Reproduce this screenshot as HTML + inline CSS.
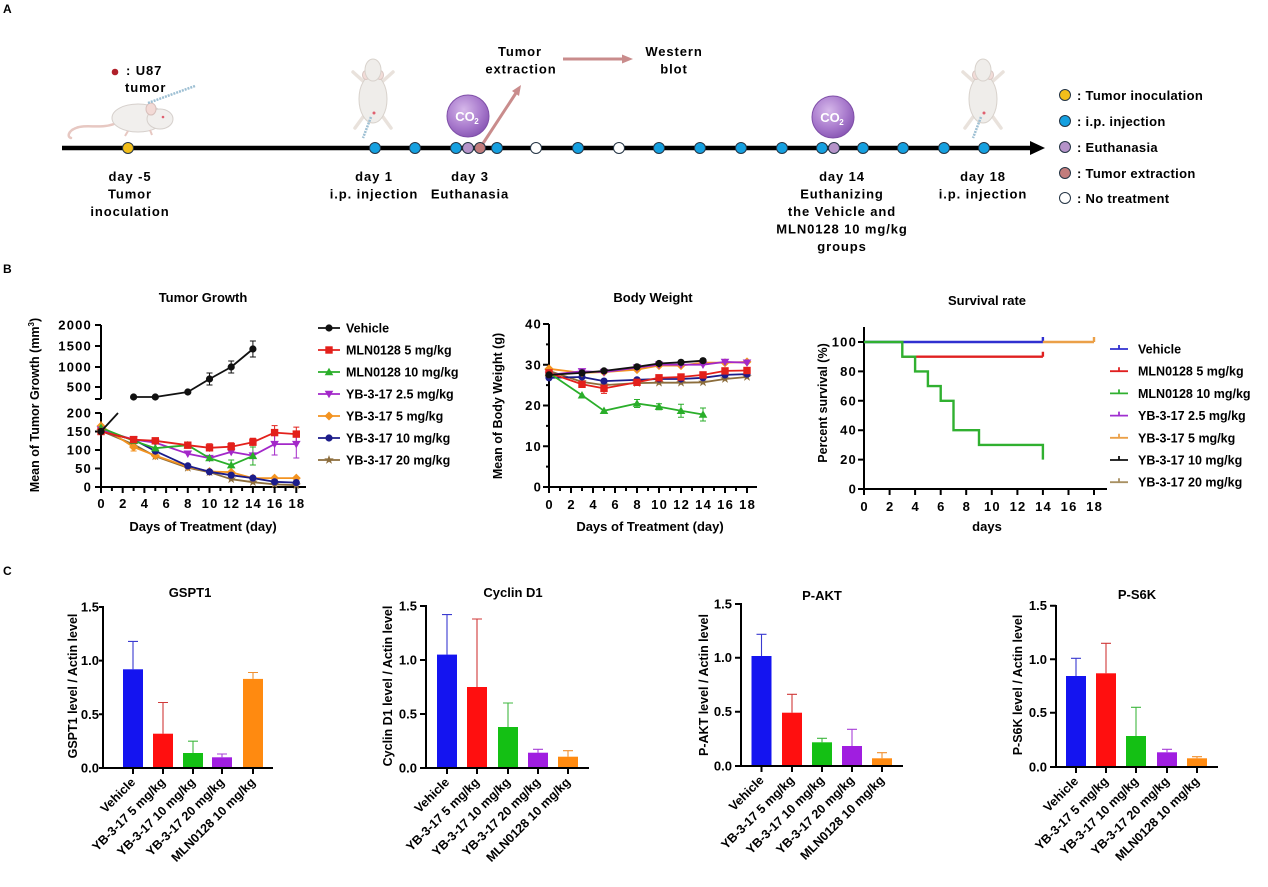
<!DOCTYPE html>
<html><head><meta charset="utf-8"><style>
html,body{margin:0;padding:0;background:#fff;}
svg{display:block;}
text{font-family:"Liberation Sans",Arial,Helvetica,sans-serif;font-weight:bold;fill:#000;}
.a{font-size:13px;letter-spacing:0.9px;}
.lg{font-size:13px;letter-spacing:0.3px;}
.tk{font-size:13px;letter-spacing:1.2px;}
.tb{font-size:13px;}
.ti{font-size:13px;}
.yl{font-size:12.5px;}
.cat{font-size:12.5px;}
.leg{font-size:12.5px;}
</style></head><body>
<svg width="1268" height="887" viewBox="0 0 1268 887" xmlns="http://www.w3.org/2000/svg">
<defs>
 <radialGradient id="co2g" cx="40%" cy="35%" r="70%">
  <stop offset="0" stop-color="#d6b8ea"/>
  <stop offset="0.6" stop-color="#a97bcd"/>
  <stop offset="1" stop-color="#8654b2"/>
 </radialGradient>
 <marker id="mc" viewBox="-6 -6 12 12" markerWidth="12" markerHeight="12" refX="0" refY="0" markerUnits="userSpaceOnUse" orient="0" overflow="visible"><circle r="3.6" fill="#111"/></marker>
 <marker id="mn" viewBox="-6 -6 12 12" markerWidth="12" markerHeight="12" refX="0" refY="0" markerUnits="userSpaceOnUse" orient="0" overflow="visible"><circle r="3.6" fill="#1c1c8a"/></marker>
 <marker id="ms" viewBox="-6 -6 12 12" markerWidth="12" markerHeight="12" refX="0" refY="0" markerUnits="userSpaceOnUse" orient="0" overflow="visible"><rect x="-3.7" y="-3.7" width="7.4" height="7.4" fill="#e3201b"/></marker>
 <marker id="mt" viewBox="-6 -6 12 12" markerWidth="12" markerHeight="12" refX="0" refY="0" markerUnits="userSpaceOnUse" orient="0" overflow="visible"><path d="M0,-4.3 L4.3,3.2 L-4.3,3.2 Z" fill="#2aae2a"/></marker>
 <marker id="mv" viewBox="-6 -6 12 12" markerWidth="12" markerHeight="12" refX="0" refY="0" markerUnits="userSpaceOnUse" orient="0" overflow="visible"><path d="M0,4.3 L4.3,-3.2 L-4.3,-3.2 Z" fill="#a328c9"/></marker>
 <marker id="md" viewBox="-6 -6 12 12" markerWidth="12" markerHeight="12" refX="0" refY="0" markerUnits="userSpaceOnUse" orient="0" overflow="visible"><path d="M0,-4.5 L4.5,0 L0,4.5 L-4.5,0 Z" fill="#f39320"/></marker>
 <marker id="mst" viewBox="-6 -6 12 12" markerWidth="12" markerHeight="12" refX="0" refY="0" markerUnits="userSpaceOnUse" orient="0" overflow="visible"><path d="M0,-5 L1.2,-1.6 L4.8,-1.6 L1.9,0.5 L3,3.9 L0,1.8 L-3,3.9 L-1.9,0.5 L-4.8,-1.6 L-1.2,-1.6 Z" fill="#8c6d3c"/></marker>
</defs>

<!-- ================= PANEL A ================= -->
<text x="3" y="13" style="font-size:12px">A</text>

<!-- lying mouse -->
<g>
 <path d="M114,124 C100,129 86,124 76,128 C68,131 67,137 71,138" stroke="#e7c8c2" stroke-width="2.5" fill="none" stroke-linecap="round"/>
 <ellipse cx="138" cy="118" rx="26" ry="14" fill="#f1efed" stroke="#d6d0cc"/>
 <ellipse cx="160" cy="119" rx="13" ry="10" fill="#f1efed" stroke="#d6d0cc"/>
 <ellipse cx="151" cy="109" rx="5" ry="6" fill="#f3dad6" stroke="#d8c0bc"/>
 <circle cx="163" cy="117" r="1.3" fill="#e06070"/>
 <path d="M128,131 l-3,5 M150,130 l2,5" stroke="#e7c8c2" stroke-width="2"/>
 <line x1="148" y1="103" x2="195" y2="86" stroke="#9dbfd3" stroke-width="2.5" stroke-dasharray="2,1"/>
</g>
<circle cx="115" cy="72" r="3.3" fill="#b0202a"/>
<text class="a" x="126" y="75">:  U87</text>
<text class="a" x="125" y="92">tumor</text>

<!-- top-down mice -->
<g transform="translate(373,95)">
 <path d="M-10,-14 L-20,-23 M10,-14 L20,-23" stroke="#e9e2dc" stroke-width="3.5" stroke-linecap="round"/>
 <path d="M-10,22 L-18,33 M10,22 L18,33" stroke="#e9e2dc" stroke-width="3.5" stroke-linecap="round"/>
 <ellipse cx="0" cy="4" rx="14" ry="24" fill="#efedea" stroke="#d8d2cc"/>
 <ellipse cx="-7" cy="-20" rx="3.5" ry="4.5" fill="#f2dcd8" stroke="#d8c6c2"/>
 <ellipse cx="7" cy="-20" rx="3.5" ry="4.5" fill="#f2dcd8" stroke="#d8c6c2"/>
 <ellipse cx="0" cy="-25" rx="8" ry="11" fill="#efedea" stroke="#d8d2cc"/>
 <circle cx="1" cy="18" r="1.5" fill="#e06070"/>
 <line x1="-2" y1="22" x2="-10" y2="43" stroke="#9dbfd3" stroke-width="2.5" stroke-dasharray="2,1"/>
</g>
<g transform="translate(983,95)">
 <path d="M-10,-14 L-20,-23 M10,-14 L20,-23" stroke="#e9e2dc" stroke-width="3.5" stroke-linecap="round"/>
 <path d="M-10,22 L-18,33 M10,22 L18,33" stroke="#e9e2dc" stroke-width="3.5" stroke-linecap="round"/>
 <ellipse cx="0" cy="4" rx="14" ry="24" fill="#efedea" stroke="#d8d2cc"/>
 <ellipse cx="-7" cy="-20" rx="3.5" ry="4.5" fill="#f2dcd8" stroke="#d8c6c2"/>
 <ellipse cx="7" cy="-20" rx="3.5" ry="4.5" fill="#f2dcd8" stroke="#d8c6c2"/>
 <ellipse cx="0" cy="-25" rx="8" ry="11" fill="#efedea" stroke="#d8d2cc"/>
 <circle cx="1" cy="18" r="1.5" fill="#e06070"/>
 <line x1="-2" y1="22" x2="-10" y2="43" stroke="#9dbfd3" stroke-width="2.5" stroke-dasharray="2,1"/>
</g>

<!-- CO2 bubbles -->
<circle cx="468" cy="116" r="21" fill="url(#co2g)" stroke="#7f4fa8" stroke-width="1"/>
<text x="465" y="121" text-anchor="middle" style="font-size:13px;fill:#fff">CO</text>
<text x="476.5" y="124" text-anchor="middle" style="font-size:8px;fill:#fff">2</text>
<circle cx="833" cy="117" r="21" fill="url(#co2g)" stroke="#7f4fa8" stroke-width="1"/>
<text x="830" y="122" text-anchor="middle" style="font-size:13px;fill:#fff">CO</text>
<text x="841.5" y="125" text-anchor="middle" style="font-size:8px;fill:#fff">2</text>

<!-- arrows -->
<line x1="480" y1="148" x2="516" y2="93" stroke="#c98c8c" stroke-width="3"/>
<polygon points="521,85 519,96 512,91" fill="#c98c8c"/>
<line x1="563" y1="59" x2="624" y2="59" stroke="#c98c8c" stroke-width="3"/>
<polygon points="622,54.5 633,59 622,63.5" fill="#c98c8c"/>

<text class="a" x="520" y="56" text-anchor="middle">Tumor</text>
<text class="a" x="521" y="73.5" text-anchor="middle">extraction</text>
<text class="a" x="674" y="56" text-anchor="middle">Western</text>
<text class="a" x="674" y="73.5" text-anchor="middle">blot</text>

<!-- timeline -->
<line x1="62" y1="148" x2="1032" y2="148" stroke="#000" stroke-width="4.5"/>
<polygon points="1030,141 1045,148 1030,155" fill="#000"/>
<g stroke="#243444" stroke-width="1">
 <circle cx="128" cy="148" r="5.5" fill="#f2be1a"/>
 <circle cx="375" cy="148" r="5.5" fill="#15a0e0"/>
 <circle cx="415" cy="148" r="5.5" fill="#15a0e0"/>
 <circle cx="456" cy="148" r="5.5" fill="#15a0e0"/>
 <circle cx="468" cy="148" r="5.5" fill="#b593c9"/>
 <circle cx="480" cy="148" r="5.5" fill="#c27c7c"/>
 <circle cx="497" cy="148" r="5.5" fill="#15a0e0"/>
 <circle cx="536" cy="148" r="5.5" fill="#fff"/>
 <circle cx="578" cy="148" r="5.5" fill="#15a0e0"/>
 <circle cx="619" cy="148" r="5.5" fill="#fff"/>
 <circle cx="659" cy="148" r="5.5" fill="#15a0e0"/>
 <circle cx="700" cy="148" r="5.5" fill="#15a0e0"/>
 <circle cx="741" cy="148" r="5.5" fill="#15a0e0"/>
 <circle cx="782" cy="148" r="5.5" fill="#15a0e0"/>
 <circle cx="822" cy="148" r="5.5" fill="#15a0e0"/>
 <circle cx="834" cy="148" r="5.5" fill="#b593c9"/>
 <circle cx="863" cy="148" r="5.5" fill="#15a0e0"/>
 <circle cx="903" cy="148" r="5.5" fill="#15a0e0"/>
 <circle cx="944" cy="148" r="5.5" fill="#15a0e0"/>
 <circle cx="984" cy="148" r="5.5" fill="#15a0e0"/>
</g>

<text class="a" x="130" y="181" text-anchor="middle">day -5</text>
<text class="a" x="130" y="198.5" text-anchor="middle">Tumor</text>
<text class="a" x="130" y="216" text-anchor="middle">inoculation</text>
<text class="a" x="374" y="181" text-anchor="middle">day 1</text>
<text class="a" x="374" y="198.5" text-anchor="middle">i.p. injection</text>
<text class="a" x="470" y="181" text-anchor="middle">day 3</text>
<text class="a" x="470" y="198.5" text-anchor="middle">Euthanasia</text>
<text class="a" x="842" y="181" text-anchor="middle">day 14</text>
<text class="a" x="842" y="198.5" text-anchor="middle">Euthanizing</text>
<text class="a" x="842" y="216" text-anchor="middle">the Vehicle and</text>
<text class="a" x="842" y="233.5" text-anchor="middle">MLN0128 10 mg/kg</text>
<text class="a" x="842" y="251" text-anchor="middle">groups</text>
<text class="a" x="983" y="181" text-anchor="middle">day 18</text>
<text class="a" x="983" y="198.5" text-anchor="middle">i.p. injection</text>

<!-- legend A -->
<g stroke="#243444" stroke-width="1">
 <circle cx="1065" cy="95" r="5.5" fill="#f2be1a"/>
 <circle cx="1065" cy="121" r="5.5" fill="#15a0e0"/>
 <circle cx="1065" cy="147" r="5.5" fill="#b593c9"/>
 <circle cx="1065" cy="173" r="5.5" fill="#c27c7c"/>
 <circle cx="1065" cy="198" r="5.5" fill="#fff"/>
</g>
<text class="lg" x="1077" y="100">: Tumor inoculation</text>
<text class="lg" x="1077" y="126">: i.p. injection</text>
<text class="lg" x="1077" y="152">: Euthanasia</text>
<text class="lg" x="1077" y="178">: Tumor extraction</text>
<text class="lg" x="1077" y="203">: No treatment</text>

<!-- ================= PANEL B ================= -->
<text x="3" y="273" style="font-size:12px">B</text>

<!-- Tumor Growth -->
<text class="ti" x="203" y="302" text-anchor="middle">Tumor Growth</text>
<text class="yl" transform="translate(39,405) rotate(-90)" text-anchor="middle">Mean of Tumor Growth (mm<tspan dy="-5" style="font-size:8px">3</tspan><tspan dy="5">)</tspan></text>
<g stroke="#000" stroke-width="2" fill="none">
 <path d="M101,325 V399 M95,325 H101 M95,346 H101 M95,367 H101 M95,387 H101 M95,399 H101"/>
 <path d="M101,413 V488 M95,413 H101 M95,431.5 H101 M95,450 H101 M95,468.5 H101 M95,487 H101"/>
 <path d="M100,487 H306"/>
 <path d="M101,487 v6 M122.7,487 v6 M144.4,487 v6 M166.1,487 v6 M187.8,487 v6 M209.5,487 v6 M231.2,487 v6 M252.9,487 v6 M274.6,487 v6 M296.3,487 v6"/>
 <path d="M111.9,487 v4 M133.6,487 v4 M155.3,487 v4 M177,487 v4 M198.7,487 v4 M220.4,487 v4 M242.1,487 v4 M263.8,487 v4 M285.5,487 v4"/>
</g>
<g text-anchor="end">
 <text class="tk" x="92" y="329.5" text-anchor="end">2000</text>
 <text class="tk" x="92" y="350.5" text-anchor="end">1500</text>
 <text class="tk" x="92" y="371.5" text-anchor="end">1000</text>
 <text class="tk" x="92" y="391.5" text-anchor="end">500</text>
 <text class="tk" x="92" y="417.5" text-anchor="end">200</text>
 <text class="tk" x="92" y="436" text-anchor="end">150</text>
 <text class="tk" x="92" y="454.5" text-anchor="end">100</text>
 <text class="tk" x="92" y="473" text-anchor="end">50</text>
 <text class="tk" x="92" y="491.5" text-anchor="end">0</text>
</g>
<g text-anchor="middle">
 <text class="tk" x="101.6" y="508">0</text>
 <text class="tk" x="123.3" y="508">2</text>
 <text class="tk" x="145" y="508">4</text>
 <text class="tk" x="166.7" y="508">6</text>
 <text class="tk" x="188.4" y="508">8</text>
 <text class="tk" x="210.1" y="508">10</text>
 <text class="tk" x="231.8" y="508">12</text>
 <text class="tk" x="253.5" y="508">14</text>
 <text class="tk" x="275.2" y="508">16</text>
 <text class="tk" x="296.9" y="508">18</text>
</g>
<text class="tb" x="203" y="531" text-anchor="middle">Days of Treatment (day)</text>

<!-- error bars tumor -->
<g stroke-width="1" fill="none">
 <path stroke="#e3201b" d="M187.8,442 v6.4 M209.5,443.8 v8 M231.2,442.7 v8 M252.9,438.2 v8 M274.6,425.6 v14 M296.3,427.1 v14 M184.8,442 h6 M206.5,443.8 h6 M228.2,442.7 h6 M249.9,438.2 h6 M271.6,425.6 h6 M293.3,427.1 h6"/>
 <path stroke="#2aae2a" d="M231.2,460 v10.4 M252.9,447 v18 M228.2,460 h6 M249.9,447 h6 M249.9,465 h6"/>
 <path stroke="#a328c9" d="M231.2,448.9 v6 M252.9,450.6 v10 M274.6,433 v22 M296.3,431 v27 M271.6,433 h6 M271.6,455 h6 M293.3,431 h6 M293.3,458 h6"/>
 <path stroke="#f39320" d="M101,421 v10 M133.6,443 v8 M130.6,451 h6"/>
 <path stroke="#111" d="M209.5,373 v12 M231.2,361 v12 M252.9,341 v16 M206.5,373 h6 M206.5,385 h6 M228.2,361 h6 M228.2,373 h6 M249.9,341 h6 M249.9,357 h6"/>
</g>
<!-- series tumor -->
<g fill="none" stroke-width="1.8" stroke-linejoin="round">
 <polyline stroke="#8c6d3c" marker-start="url(#mst)" marker-mid="url(#mst)" marker-end="url(#mst)" points="101,430.8 133.6,444.45 155.3,456.3 187.8,467.8 209.5,472.2 231.2,479.2 252.9,482.2 274.6,484.4 296.3,485.2"/>
 <polyline stroke="#f39320" marker-start="url(#md)" marker-mid="url(#md)" marker-end="url(#md)" points="101,426 133.6,447 155.3,455.6 187.8,466.7 209.5,471.5 231.2,472.2 252.9,478.1 274.6,478.1 296.3,478.1"/>
 <polyline stroke="#1c1c8a" marker-start="url(#mn)" marker-mid="url(#mn)" marker-end="url(#mn)" points="101,431.5 133.6,439.6 155.3,451.1 187.8,465.9 209.5,471.8 231.2,475.2 252.9,478.1 274.6,481.8 296.3,482.6"/>
 <polyline stroke="#a328c9" marker-start="url(#mv)" marker-mid="url(#mv)" marker-end="url(#mv)" points="101,429.7 133.6,439.6 155.3,442.6 187.8,453.7 209.5,458.1 231.2,451.9 252.9,455.6 274.6,444.1 296.3,444.1"/>
 <polyline stroke="#2aae2a" marker-start="url(#mt)" marker-mid="url(#mt)" marker-end="url(#mt)" points="101,427.8 133.6,440.8 155.3,448.2 187.8,445.2 209.5,458.1 231.2,465.2 252.9,455.9"/>
 <polyline stroke="#e3201b" marker-start="url(#ms)" marker-mid="url(#ms)" marker-end="url(#ms)" points="101,431.5 133.6,439.6 155.3,440.8 187.8,445.2 209.5,447.8 231.2,446.7 252.9,442.2 274.6,432.6 296.3,434.1"/>
 <line x1="101" y1="431.5" x2="118" y2="413" stroke="#111"/>
 <circle cx="101" cy="431.5" r="3.6" fill="#111" stroke="none"/>
 <polyline stroke="#111" marker-start="url(#mc)" marker-mid="url(#mc)" marker-end="url(#mc)" points="133.6,397 155.3,397 187.8,392 209.5,379 231.2,367 252.9,349"/>
</g>
<!-- legend tumor -->
<g fill="none" stroke-width="1.8">
 <polyline stroke="#111" marker-mid="url(#mc)" points="318,328 329,328 340,328"/>
 <polyline stroke="#e3201b" marker-mid="url(#ms)" points="318,350 329,350 340,350"/>
 <polyline stroke="#2aae2a" marker-mid="url(#mt)" points="318,372 329,372 340,372"/>
 <polyline stroke="#a328c9" marker-mid="url(#mv)" points="318,394 329,394 340,394"/>
 <polyline stroke="#f39320" marker-mid="url(#md)" points="318,416 329,416 340,416"/>
 <polyline stroke="#1c1c8a" marker-mid="url(#mn)" points="318,438 329,438 340,438"/>
 <polyline stroke="#8c6d3c" marker-mid="url(#mst)" points="318,460 329,460 340,460"/>
</g>
<text class="leg" x="346" y="332.5">Vehicle</text>
<text class="leg" x="346" y="354.5">MLN0128 5 mg/kg</text>
<text class="leg" x="346" y="376.5">MLN0128 10 mg/kg</text>
<text class="leg" x="346" y="398.5">YB-3-17 2.5 mg/kg</text>
<text class="leg" x="346" y="420.5">YB-3-17 5 mg/kg</text>
<text class="leg" x="346" y="442.5">YB-3-17 10 mg/kg</text>
<text class="leg" x="346" y="464.5">YB-3-17 20 mg/kg</text>

<!-- Body Weight -->
<text class="ti" x="653" y="302" text-anchor="middle">Body Weight</text>
<text class="yl" transform="translate(502,406) rotate(-90)" text-anchor="middle">Mean of Body Weight (g)</text>
<g stroke="#000" stroke-width="2" fill="none">
 <path d="M549,324 V488 M548,487 H757"/>
 <path d="M543,324 H549 M543,364.75 H549 M543,405.5 H549 M543,446.25 H549 M543,487 H549"/>
 <path d="M546,344.4 H549 M546,385.1 H549 M546,425.9 H549 M546,466.6 H549"/>
 <path d="M549,487 v6 M571,487 v6 M593,487 v6 M615,487 v6 M637,487 v6 M659,487 v6 M681,487 v6 M703,487 v6 M725,487 v6 M747,487 v6"/>
 <path d="M560,487 v4 M582,487 v4 M604,487 v4 M626,487 v4 M648,487 v4 M670,487 v4 M692,487 v4 M714,487 v4 M736,487 v4"/>
</g>
<text class="tk" x="542" y="328.5" text-anchor="end">40</text>
<text class="tk" x="542" y="369.25" text-anchor="end">30</text>
<text class="tk" x="542" y="410" text-anchor="end">20</text>
<text class="tk" x="542" y="450.75" text-anchor="end">10</text>
<text class="tk" x="542" y="491.5" text-anchor="end">0</text>
<g text-anchor="middle">
 <text class="tk" x="549.6" y="509">0</text>
 <text class="tk" x="571.6" y="509">2</text>
 <text class="tk" x="593.6" y="509">4</text>
 <text class="tk" x="615.6" y="509">6</text>
 <text class="tk" x="637.6" y="509">8</text>
 <text class="tk" x="659.6" y="509">10</text>
 <text class="tk" x="681.6" y="509">12</text>
 <text class="tk" x="703.6" y="509">14</text>
 <text class="tk" x="725.6" y="509">16</text>
 <text class="tk" x="747.6" y="509">18</text>
</g>
<text class="tb" x="650" y="531" text-anchor="middle">Days of Treatment (day)</text>
<g stroke-width="1" fill="none">
 <path stroke="#2aae2a" d="M637,399.5 v8 M659,403.7 v6 M681,404.3 v13 M703,408 v13 M634,399.5 h6 M634,407.5 h6 M656,403.7 h6 M656,409.7 h6 M678,404.3 h6 M678,417.3 h6 M700,408 h6 M700,421 h6"/>
 <path stroke="#e3201b" d="M604,383.4 v10 M601,393.4 h6"/>
</g>
<g fill="none" stroke-width="1.8" stroke-linejoin="round">
 <polyline stroke="#8c6d3c" marker-start="url(#mst)" marker-mid="url(#mst)" marker-end="url(#mst)" points="549,370.9 582,381.9 604,385.1 637,383.1 659,382.7 681,382.7 703,382.3 725,379 747,377"/>
 <polyline stroke="#1c1c8a" marker-start="url(#mn)" marker-mid="url(#mn)" marker-end="url(#mn)" points="549,377.8 582,377 604,381.1 637,379.8 659,379 681,379 703,377.8 725,374.9 747,374.1"/>
 <polyline stroke="#f39320" marker-start="url(#md)" marker-mid="url(#md)" marker-end="url(#md)" points="549,368.8 582,372.9 604,372.1 637,369.6 659,365.6 681,365.6 703,362.7 725,362.7 747,361.9"/>
 <polyline stroke="#a328c9" marker-start="url(#mv)" marker-mid="url(#mv)" marker-end="url(#mv)" points="549,374.9 582,371.3 604,372.1 637,367.6 659,364.7 681,364.7 703,364.7 725,361.9 747,362.7"/>
 <polyline stroke="#2aae2a" marker-start="url(#mt)" marker-mid="url(#mt)" marker-end="url(#mt)" points="549,372.9 582,395.3 604,410.8 637,403.5 659,406.7 681,410.8 703,414.5"/>
 <polyline stroke="#e3201b" marker-start="url(#ms)" marker-mid="url(#ms)" marker-end="url(#ms)" points="549,372.9 582,384.3 604,388.4 637,382.3 659,377.8 681,377 703,374.9 725,370.9 747,370.5"/>
 <polyline stroke="#111" marker-start="url(#mc)" marker-mid="url(#mc)" marker-end="url(#mc)" points="549,374.9 582,372.9 604,370.9 637,366.8 659,363.5 681,362.3 703,360.7"/>
</g>

<!-- Survival -->
<text class="ti" x="987" y="305" text-anchor="middle">Survival rate</text>
<text class="yl" transform="translate(827,403) rotate(-90)" text-anchor="middle">Percent survival (%)</text>
<g stroke="#000" stroke-width="2" fill="none">
 <path d="M864,327 V490 M863,489 H1107"/>
 <path d="M858,342 H864 M858,371.4 H864 M858,400.8 H864 M858,430.2 H864 M858,459.6 H864 M858,489 H864"/>
 <path d="M864,489 v6 M889.6,489 v6 M915.1,489 v6 M940.7,489 v6 M966.2,489 v6 M991.8,489 v6 M1017.4,489 v6 M1042.9,489 v6 M1068.5,489 v6 M1094,489 v6"/>
</g>
<text class="tk" x="857" y="346.5" text-anchor="end">100</text>
<text class="tk" x="857" y="375.9" text-anchor="end">80</text>
<text class="tk" x="857" y="405.3" text-anchor="end">60</text>
<text class="tk" x="857" y="434.7" text-anchor="end">40</text>
<text class="tk" x="857" y="464.1" text-anchor="end">20</text>
<text class="tk" x="857" y="493.5" text-anchor="end">0</text>
<g text-anchor="middle">
 <text class="tk" x="864.6" y="511">0</text>
 <text class="tk" x="890.2" y="511">2</text>
 <text class="tk" x="915.7" y="511">4</text>
 <text class="tk" x="941.3" y="511">6</text>
 <text class="tk" x="966.8" y="511">8</text>
 <text class="tk" x="992.4" y="511">10</text>
 <text class="tk" x="1018" y="511">12</text>
 <text class="tk" x="1043.5" y="511">14</text>
 <text class="tk" x="1069.1" y="511">16</text>
 <text class="tk" x="1094.6" y="511">18</text>
</g>
<text class="tb" x="987" y="531" text-anchor="middle">days</text>
<g fill="none" stroke-width="2.4">
 <path stroke="#3030d0" d="M864,342 H1042.9 M1042.9,342 v-5"/>
 <path stroke="#e02020" d="M902.3,356.7 H1042.9 M1042.9,356.7 v-5"/>
 <path stroke="#30b030" d="M864,342 H902.3 V356.7 H915.1 V371.4 H927.9 V386.1 H940.7 V400.8 H953.5 V430.2 H979 V444.9 H1042.9 V459.6"/>
 <path stroke="#eba048" d="M1042.9,342 H1094 M1094,342 v-5"/>
</g>
<g fill="none" stroke-width="1.8">
 <path stroke="#3030d0" d="M1110,349 H1128 M1119,349 v-4"/>
 <path stroke="#e02020" d="M1110,371.2 H1128 M1119,371.2 v-4"/>
 <path stroke="#30b030" d="M1110,393.4 H1128 M1119,393.4 v-4"/>
 <path stroke="#a030d0" d="M1110,415.6 H1128 M1119,415.6 v-4"/>
 <path stroke="#eba048" d="M1110,437.8 H1128 M1119,437.8 v-4"/>
 <path stroke="#111" d="M1110,460 H1128 M1119,460 v-4"/>
 <path stroke="#a89062" d="M1110,482.2 H1128 M1119,482.2 v-4"/>
</g>
<text class="leg" x="1138" y="353.5">Vehicle</text>
<text class="leg" x="1138" y="375.7">MLN0128 5 mg/kg</text>
<text class="leg" x="1138" y="397.9">MLN0128 10 mg/kg</text>
<text class="leg" x="1138" y="420.1">YB-3-17 2.5 mg/kg</text>
<text class="leg" x="1138" y="442.3">YB-3-17 5 mg/kg</text>
<text class="leg" x="1138" y="464.5">YB-3-17 10 mg/kg</text>
<text class="leg" x="1138" y="486.7">YB-3-17 20 mg/kg</text>

<!-- ================= PANEL C ================= -->
<text x="3" y="575" style="font-size:12px">C</text>

<!-- GSPT1 -->
<text class="ti" x="190" y="597" text-anchor="middle">GSPT1</text>
<text class="yl" transform="translate(77,686) rotate(-90)" text-anchor="middle">GSPT1 level / Actin level</text>
<g stroke-width="1.1" fill="none">
 <path stroke="#3a3ad0" d="M133,669.3 V641.4 M128,641.4 h10"/>
 <path stroke="#d03a3a" d="M163,733.7 V702.5 M158,702.5 h10"/>
 <path stroke="#40b840" d="M193,753 V741.2 M188,741.2 h10"/>
 <path stroke="#a840d8" d="M222,757.3 V754 M217,754 h10"/>
 <path stroke="#f09030" d="M253,678.9 V672.5 M248,672.5 h10"/>
</g>
<rect x="123" y="669.3" width="20" height="98.7" fill="#1414f0"/>
<rect x="153" y="733.7" width="20" height="34.3" fill="#ff0f0f"/>
<rect x="183" y="753" width="20" height="15" fill="#14c014"/>
<rect x="212" y="757.3" width="20" height="10.7" fill="#a01ee0"/>
<rect x="243" y="678.9" width="20" height="89.1" fill="#ff8a10"/>
<g stroke="#000" stroke-width="2" fill="none">
 <path d="M103,606 V769 M102,768 H273"/>
 <path d="M99,768 H103 M99,714.3 H103 M99,660.6 H103 M99,607 H103"/>
 <path d="M133,768 v6 M163,768 v6 M193,768 v6 M222,768 v6 M253,768 v6"/>
</g>
<text class="tb" x="99" y="772.5" text-anchor="end">0.0</text>
<text class="tb" x="99" y="718.8" text-anchor="end">0.5</text>
<text class="tb" x="99" y="665.1" text-anchor="end">1.0</text>
<text class="tb" x="99" y="611.5" text-anchor="end">1.5</text>
<text class="cat" text-anchor="end" transform="translate(136,783) rotate(-45)">Vehicle</text>
<text class="cat" text-anchor="end" transform="translate(166,783) rotate(-45)">YB-3-17 5 mg/kg</text>
<text class="cat" text-anchor="end" transform="translate(196,783) rotate(-45)">YB-3-17 10 mg/kg</text>
<text class="cat" text-anchor="end" transform="translate(225,783) rotate(-45)">YB-3-17 20 mg/kg</text>
<text class="cat" text-anchor="end" transform="translate(256,783) rotate(-45)">MLN0128 10 mg/kg</text>

<!-- Cyclin D1 -->
<text class="ti" x="513" y="597" text-anchor="middle">Cyclin D1</text>
<text class="yl" transform="translate(392,686) rotate(-90)" text-anchor="middle">Cyclin D1 level / Actin level</text>
<g stroke-width="1.1" fill="none">
 <path stroke="#3a3ad0" d="M447,654.6 V614.6 M442,614.6 h10"/>
 <path stroke="#d03a3a" d="M477,687 V619 M472,619 h10"/>
 <path stroke="#40b840" d="M508,727 V703 M503,703 h10"/>
 <path stroke="#a840d8" d="M538,752.7 V749.3 M533,749.3 h10"/>
 <path stroke="#f09030" d="M568,756.7 V750.7 M563,750.7 h10"/>
</g>
<rect x="437" y="654.6" width="20" height="113.4" fill="#1414f0"/>
<rect x="467" y="687" width="20" height="81" fill="#ff0f0f"/>
<rect x="498" y="727" width="20" height="41" fill="#14c014"/>
<rect x="528" y="752.7" width="20" height="15.3" fill="#a01ee0"/>
<rect x="558" y="756.7" width="20" height="11.3" fill="#ff8a10"/>
<g stroke="#000" stroke-width="2" fill="none">
 <path d="M426,605 V769 M425,768 H589"/>
 <path d="M420,768 H426 M420,714 H426 M420,660 H426 M420,606 H426"/>
 <path d="M447,768 v6 M477,768 v6 M508,768 v6 M538,768 v6 M568,768 v6"/>
</g>
<text class="tb" x="417" y="772.5" text-anchor="end">0.0</text>
<text class="tb" x="417" y="718.5" text-anchor="end">0.5</text>
<text class="tb" x="417" y="664.5" text-anchor="end">1.0</text>
<text class="tb" x="417" y="610.5" text-anchor="end">1.5</text>
<text class="cat" text-anchor="end" transform="translate(450,783) rotate(-45)">Vehicle</text>
<text class="cat" text-anchor="end" transform="translate(480,783) rotate(-45)">YB-3-17 5 mg/kg</text>
<text class="cat" text-anchor="end" transform="translate(511,783) rotate(-45)">YB-3-17 10 mg/kg</text>
<text class="cat" text-anchor="end" transform="translate(541,783) rotate(-45)">YB-3-17 20 mg/kg</text>
<text class="cat" text-anchor="end" transform="translate(571,783) rotate(-45)">MLN0128 10 mg/kg</text>

<!-- P-AKT -->
<text class="ti" x="822" y="600" text-anchor="middle">P-AKT</text>
<text class="yl" transform="translate(708,685) rotate(-90)" text-anchor="middle">P-AKT level / Actin level</text>
<g stroke-width="1.1" fill="none">
 <path stroke="#3a3ad0" d="M761.5,656 V634.3 M756.5,634.3 h10"/>
 <path stroke="#d03a3a" d="M792,712.7 V694.3 M787,694.3 h10"/>
 <path stroke="#40b840" d="M822,742.3 V738.3 M817,738.3 h10"/>
 <path stroke="#a840d8" d="M852,746 V729.3 M847,729.3 h10"/>
 <path stroke="#f09030" d="M882,758.3 V752.7 M877,752.7 h10"/>
</g>
<rect x="751.5" y="656" width="20" height="110" fill="#1414f0"/>
<rect x="782" y="712.7" width="20" height="53.3" fill="#ff0f0f"/>
<rect x="812" y="742.3" width="20" height="23.7" fill="#14c014"/>
<rect x="842" y="746" width="20" height="20" fill="#a01ee0"/>
<rect x="872" y="758.3" width="20" height="7.7" fill="#ff8a10"/>
<g stroke="#000" stroke-width="2" fill="none">
 <path d="M741,603 V767 M740,766 H903"/>
 <path d="M735,766 H741 M735,711.7 H741 M735,657.7 H741 M735,604 H741"/>
 <path d="M761.5,766 v6 M792,766 v6 M822,766 v6 M852,766 v6 M882,766 v6"/>
</g>
<text class="tb" x="732" y="770.5" text-anchor="end">0.0</text>
<text class="tb" x="732" y="716.2" text-anchor="end">0.5</text>
<text class="tb" x="732" y="662.2" text-anchor="end">1.0</text>
<text class="tb" x="732" y="608.5" text-anchor="end">1.5</text>
<text class="cat" text-anchor="end" transform="translate(764.5,781) rotate(-45)">Vehicle</text>
<text class="cat" text-anchor="end" transform="translate(795,781) rotate(-45)">YB-3-17 5 mg/kg</text>
<text class="cat" text-anchor="end" transform="translate(825,781) rotate(-45)">YB-3-17 10 mg/kg</text>
<text class="cat" text-anchor="end" transform="translate(855,781) rotate(-45)">YB-3-17 20 mg/kg</text>
<text class="cat" text-anchor="end" transform="translate(885,781) rotate(-45)">MLN0128 10 mg/kg</text>

<!-- P-S6K -->
<text class="ti" x="1137" y="599" text-anchor="middle">P-S6K</text>
<text class="yl" transform="translate(1022,685) rotate(-90)" text-anchor="middle">P-S6K level / Actin level</text>
<g stroke-width="1.1" fill="none">
 <path stroke="#3a3ad0" d="M1076,676 V658.3 M1071,658.3 h10"/>
 <path stroke="#d03a3a" d="M1106,673.3 V643.3 M1101,643.3 h10"/>
 <path stroke="#40b840" d="M1136,736 V707.3 M1131,707.3 h10"/>
 <path stroke="#a840d8" d="M1167,752.3 V749.3 M1162,749.3 h10"/>
 <path stroke="#f09030" d="M1197,758.3 V756.7 M1192,756.7 h10"/>
</g>
<rect x="1066" y="676" width="20" height="91" fill="#1414f0"/>
<rect x="1096" y="673.3" width="20" height="93.7" fill="#ff0f0f"/>
<rect x="1126" y="736" width="20" height="31" fill="#14c014"/>
<rect x="1157" y="752.3" width="20" height="14.7" fill="#a01ee0"/>
<rect x="1187" y="758.3" width="20" height="8.7" fill="#ff8a10"/>
<g stroke="#000" stroke-width="2" fill="none">
 <path d="M1056,605 V768 M1055,767 H1218"/>
 <path d="M1050,767 H1056 M1050,712.7 H1056 M1050,659.3 H1056 M1050,605.7 H1056"/>
 <path d="M1076,767 v6 M1106,767 v6 M1136,767 v6 M1167,767 v6 M1197,767 v6"/>
</g>
<text class="tb" x="1047" y="771.5" text-anchor="end">0.0</text>
<text class="tb" x="1047" y="717.2" text-anchor="end">0.5</text>
<text class="tb" x="1047" y="663.8" text-anchor="end">1.0</text>
<text class="tb" x="1047" y="610.2" text-anchor="end">1.5</text>
<text class="cat" text-anchor="end" transform="translate(1079,782) rotate(-45)">Vehicle</text>
<text class="cat" text-anchor="end" transform="translate(1109,782) rotate(-45)">YB-3-17 5 mg/kg</text>
<text class="cat" text-anchor="end" transform="translate(1139,782) rotate(-45)">YB-3-17 10 mg/kg</text>
<text class="cat" text-anchor="end" transform="translate(1170,782) rotate(-45)">YB-3-17 20 mg/kg</text>
<text class="cat" text-anchor="end" transform="translate(1200,782) rotate(-45)">MLN0128 10 mg/kg</text>
</svg>
</body></html>
